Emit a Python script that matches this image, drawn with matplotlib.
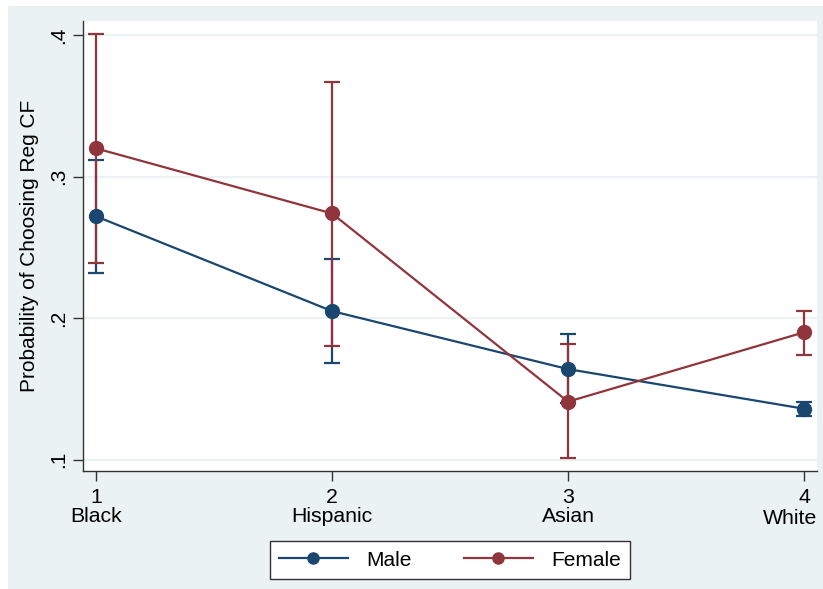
import matplotlib.pyplot as plt
import matplotlib.transforms as mtransforms
from matplotlib.patches import Rectangle

# predicted probabilities with 95% CIs by race and gender
races = ["Black", "Hispanic", "Asian", "White"]
codes = [1, 2, 3, 4]

male = [0.272, 0.205, 0.164, 0.136]
male_lo = [0.232, 0.168, 0.140, 0.131]
male_hi = [0.312, 0.242, 0.189, 0.141]

female = [0.320, 0.274, 0.141, 0.190]
female_lo = [0.239, 0.180, 0.101, 0.174]
female_hi = [0.401, 0.367, 0.182, 0.205]

navy = "#1a476f"
maroon = "#90353b"
bg = "#eaf2f3"

plt.rcParams['font.family'] = ['Liberation Sans', 'DejaVu Sans']

fig = plt.figure(figsize=(8.23, 5.89), dpi=100, facecolor="white")
fig.patches.append(Rectangle((8 / 823, 0), 1, 1 - 6 / 589, transform=fig.transFigure,
                             facecolor=bg, edgecolor="none", zorder=-5))
ax = fig.add_axes([83 / 823, 1 - 471 / 589, (817 - 83) / 823, (471 - 21) / 589])
ax.set_facecolor("white")

for vals, lo, hi, col, lab in [(male, male_lo, male_hi, navy, "Male"),
                               (female, female_lo, female_hi, maroon, "Female")]:
    err = [[v - l for v, l in zip(vals, lo)], [h - v for v, h in zip(vals, hi)]]
    ax.errorbar(codes, vals, yerr=err, fmt="none", ecolor=col, elinewidth=1.6,
                capsize=6, capthick=1.6, zorder=2)
    ax.plot(codes, vals, color=col, lw=1.6, marker="o", markersize=10, label=lab, zorder=3)

ax.set_xlim(0.945, 4.055)
ax.set_ylim(0.092, 0.41)
ax.set_yticks([0.1, 0.2, 0.3, 0.4])
ax.set_yticklabels([".1", ".2", ".3", ".4"], rotation=90, va="center", fontsize=15)
ax.set_xticks(codes)
# the last category name sits flush with the right edge of the plot instead
xlabels = [f"{c}\n{r}" for c, r in zip(codes[:-1], races[:-1])] + [str(codes[-1])]
ax.set_xticklabels(xlabels, fontsize=15.3, linespacing=1.0)
ax.text(1.0, 0, races[-1], fontsize=15.3, ha="right", va="top",
        transform=ax.transAxes + mtransforms.ScaledTranslation(0, -37.5 / 100, fig.dpi_scale_trans))
ax.tick_params(axis="both", length=7, width=1, color="#333333")
ax.tick_params(axis="x", pad=5)
ax.tick_params(axis="y", pad=4)
ax.grid(axis="y", color=bg, lw=1.5)
ax.set_axisbelow(True)
for s in ["top", "right"]:
    ax.spines[s].set_visible(False)
for s in ["left", "bottom"]:
    ax.spines[s].set_color("#333333")
    ax.spines[s].set_linewidth(1)
ax.set_ylabel("Probability of Choosing Reg CF", fontsize=15, labelpad=7)

leg = fig.legend(loc="center", bbox_to_anchor=(450 / 823, 1 - 560 / 589), ncol=2,
                 fontsize=15, frameon=True, fancybox=False, handlelength=3.3,
                 columnspacing=2.5, handletextpad=0.9, borderpad=0.45)
leg.get_frame().set_edgecolor("#333333")
leg.get_frame().set_linewidth(1)
leg.get_frame().set_facecolor("white")
leg.get_frame().set_alpha(1)
for h in leg.legend_handles:
    h.set_markersize(8)

fig.savefig("out.png", dpi=100, facecolor=fig.get_facecolor())
